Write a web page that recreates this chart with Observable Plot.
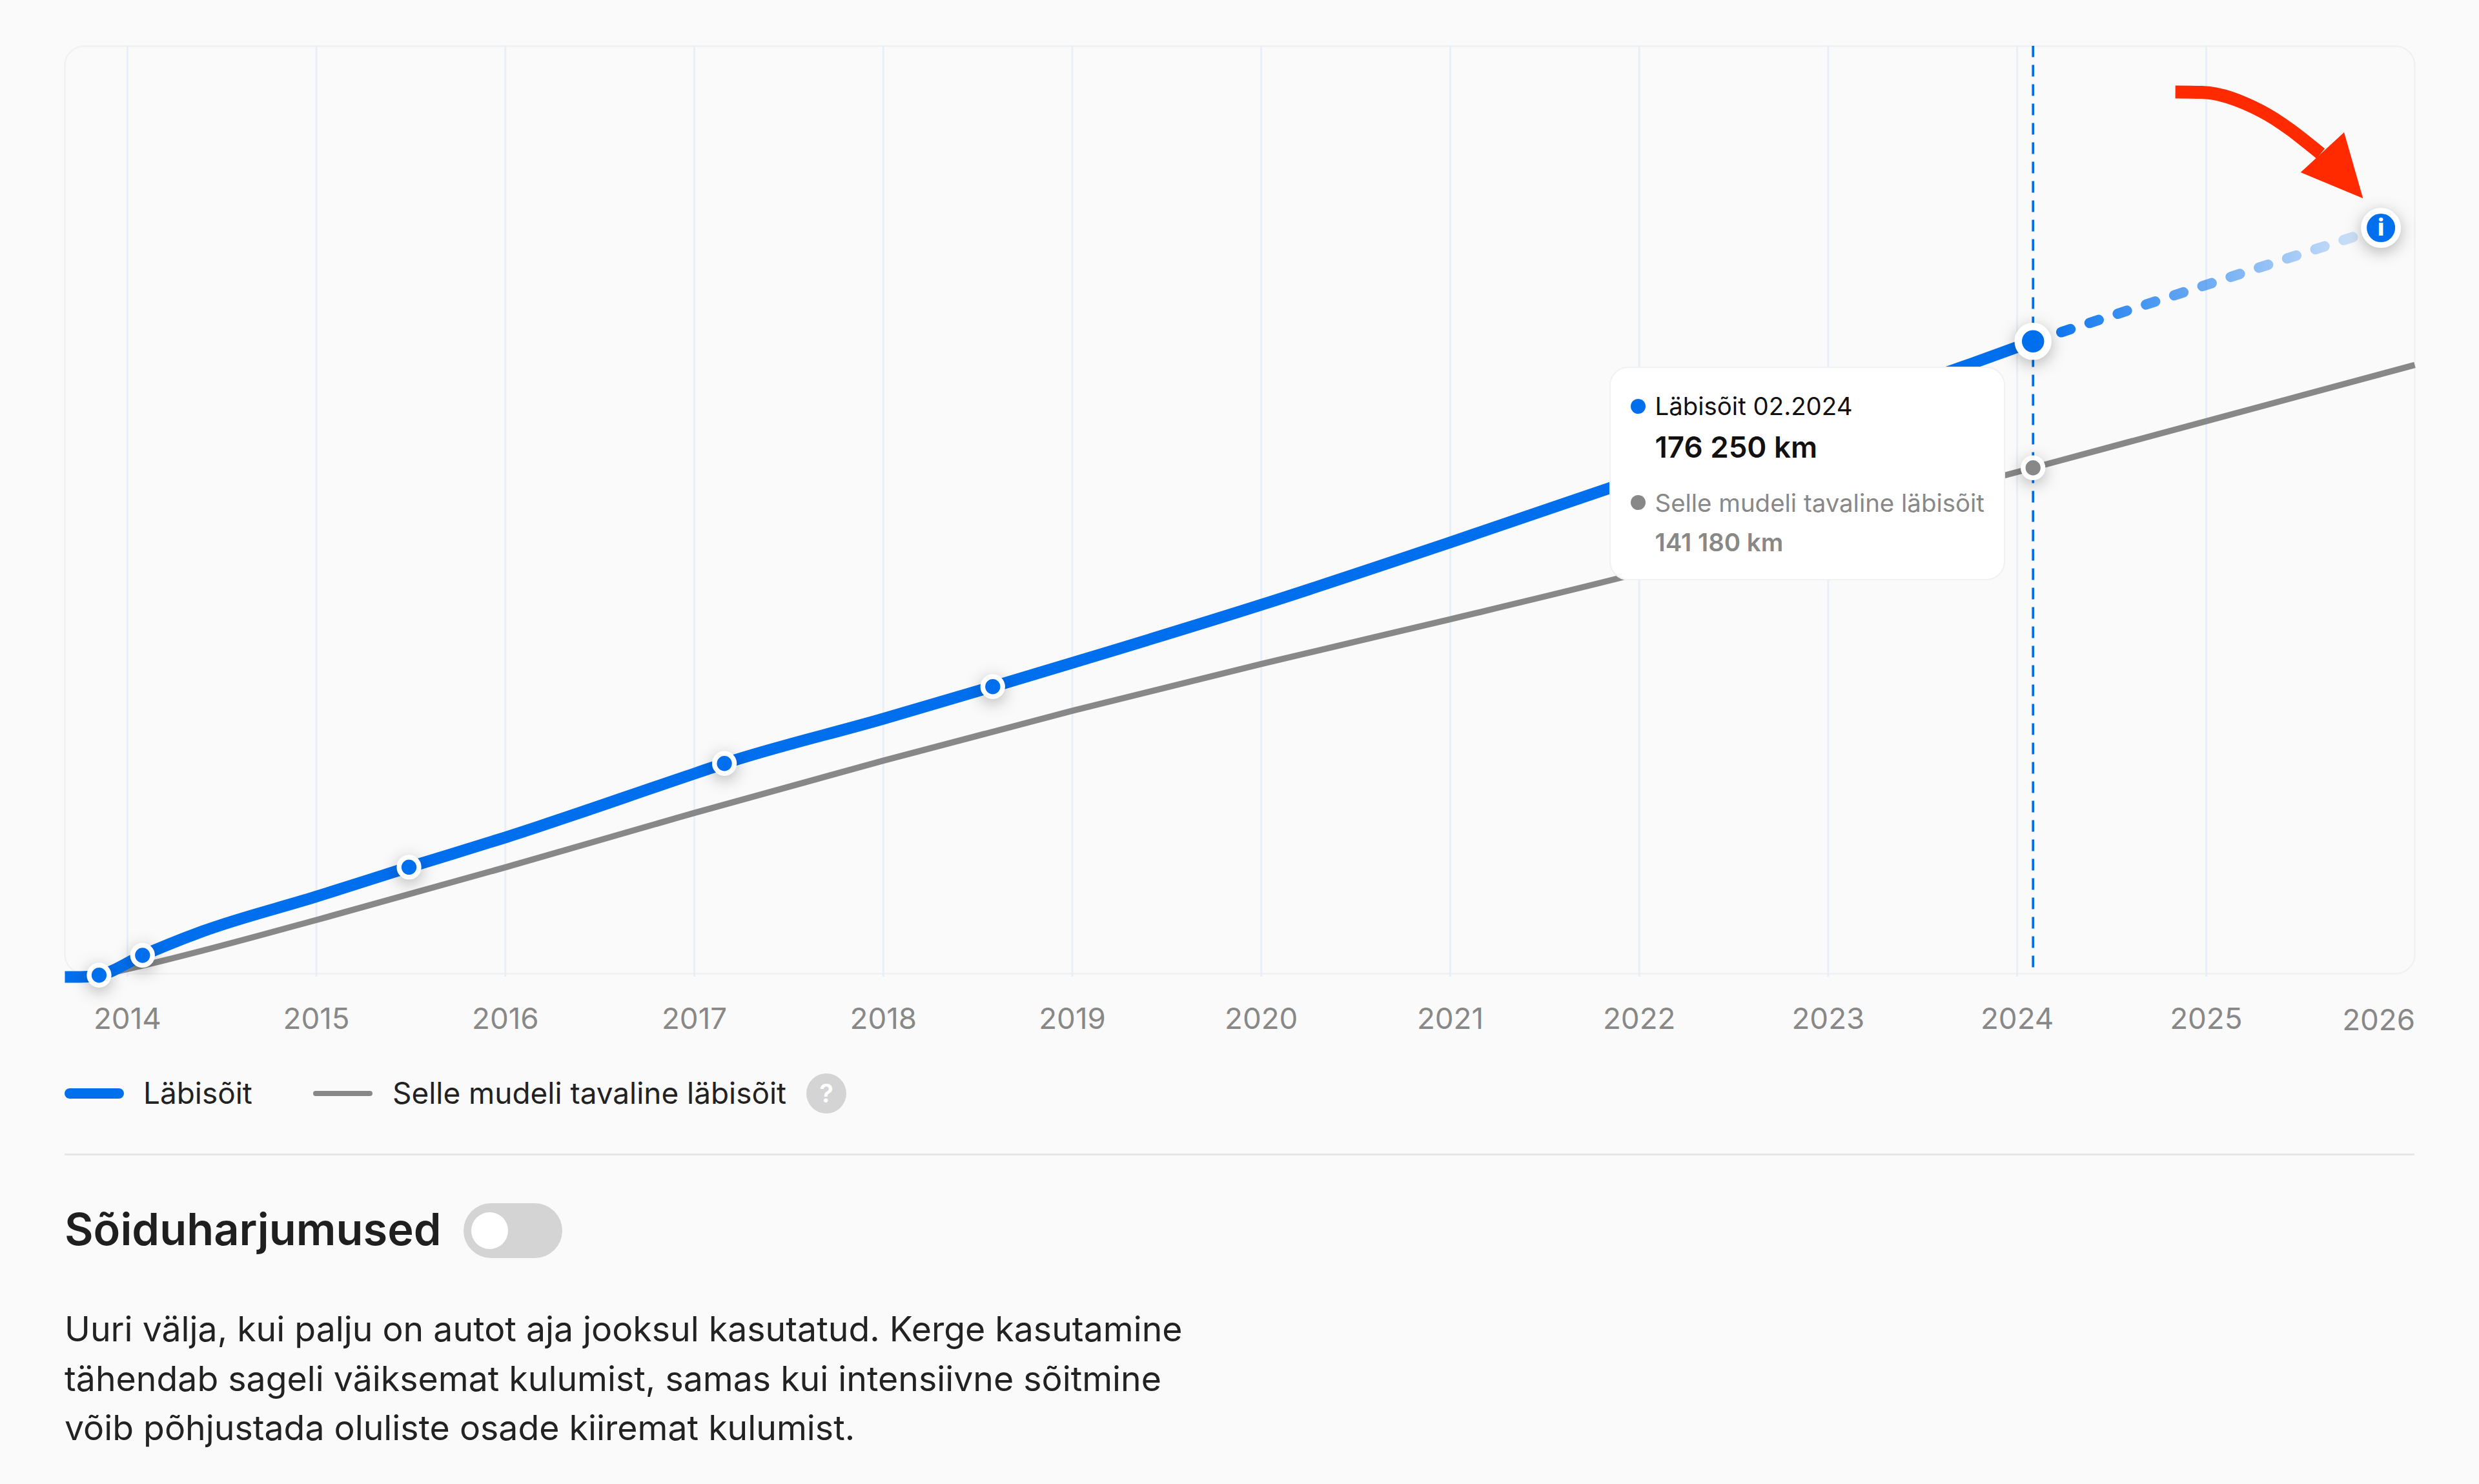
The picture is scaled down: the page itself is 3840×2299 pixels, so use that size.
<!DOCTYPE html>
<html lang="et">
<head>
<meta charset="utf-8">
<title>Läbisõit</title>
<script src="https://cdn.jsdelivr.net/npm/d3@7"></script>
<script src="https://cdn.jsdelivr.net/npm/@observablehq/plot@0.6"></script>
<style>
  html, body { margin: 0; padding: 0; background: #fafafa; overflow: hidden; }
  #page { position: relative; width: 3840px; height: 2299px; background: #fafafa; font-family: Inter, sans-serif; color: #222; }
  #chart { position: absolute; left: 0; top: 0; }
  #chart svg { display: block; background: transparent; }
  #tooltip { position: absolute; left: 2493px; top: 568px; width: 613px; height: 331px; box-sizing: border-box; background: #fff; border: 2.5px solid #f1f1f1; border-radius: 29px; }
  .tip { position: absolute; left: 68.5px; white-space: nowrap; font-size: 38.4px; line-height: 50px; }
  .tipdot { position: absolute; left: 30.5px; width: 23px; height: 23px; border-radius: 50%; }
  .swatch { position: absolute; border-radius: 9px; }
  .legend { position: absolute; top: 1666px; font-size: 45.9px; line-height: 56px; white-space: nowrap; color: #222; }
  #help { position: absolute; left: 1249px; top: 1663px; width: 62px; height: 62px; border-radius: 50%; background: #d4d4d4; color: #fff; text-align: center; font-size: 40px; font-weight: 600; line-height: 62px; }
  #divider { position: absolute; left: 100px; top: 1787px; width: 3640px; height: 3px; background: #e6e6e6; }
  #heading { position: absolute; left: 100px; top: 1865px; font-size: 68.6px; line-height: 80px; font-weight: 600; white-space: nowrap; color: #1f1f1f; }
  #toggle { position: absolute; left: 718px; top: 1864px; width: 153px; height: 85px; border-radius: 43px; background: #d4d4d4; }
  #knob { position: absolute; left: 12px; top: 14px; width: 57px; height: 57px; border-radius: 50%; background: #fff; }
  #body { position: absolute; left: 100px; top: 2021px; font-size: 53.6px; line-height: 76.5px; color: #222; white-space: nowrap; }
</style>
</head>
<body>
<div id="page">
  <div id="chart"></div>
  <div id="tooltip">
    <div class="tipdot" style="top:47.5px;background:#006fee"></div>
    <div class="tip" id="t1" style="top:34px;color:#111"></div>
    <div class="tip" id="t2" style="top:98px;color:#111;font-weight:600;font-size:45.7px"></div>
    <div class="tipdot" style="top:196.5px;background:#888"></div>
    <div class="tip" id="t3" style="top:184px;color:#888"></div>
    <div class="tip" id="t4" style="top:245px;color:#888;font-weight:600"></div>
  </div>
  <div class="swatch" style="left:100px;top:1686px;width:92px;height:16px;background:#006fee"></div>
  <div class="legend" id="l1" style="left:222px"></div>
  <div class="swatch" style="left:485px;top:1690px;width:92px;height:8px;background:#888;border-radius:4px"></div>
  <div class="legend" id="l2" style="left:608px"></div>
  <div id="help">?</div>
  <div id="divider"></div>
  <div id="heading"></div>
  <div id="toggle"><div id="knob"></div></div>
  <div id="body"></div>
</div>
<script>
// Chart values
const tickYears = [2014, 2015, 2016, 2017, 2018, 2019, 2020, 2021, 2022, 2023, 2024, 2025];
const lastTickYear = [2026];

const mileageYears = [2013.669, 2013.75, 2013.85, 2014.08, 2014.40, 2015, 2015.49, 2016, 2017, 2017.159, 2018, 2018.579, 2019, 2020, 2021, 2021.84, 2022, 2023, 2023.723, 2024.084];
const mileageKm    = [0, 0, 500, 6000, 12700, 22300, 30450, 38700, 56400, 59200, 71600, 80500, 87100, 103200, 120500, 135500, 138400, 156300, 169400, 176250];

const typicalYears = [2013.85, 2014, 2015, 2016, 2017, 2018, 2019, 2020, 2021, 2022, 2023, 2024.084, 2026.104];
const typicalKm    = [500, 2200, 15800, 30400, 45500, 60000, 73800, 86800, 99200, 112000, 126100, 141180, 169700];

const forecastYears = [2024.084, 2025.925];
const forecastKm    = [176250, 207700];

const serviceYears = [2013.85, 2014.08, 2015.49, 2017.159, 2018.579];
const serviceKm    = [500, 6000, 30450, 59200, 80500];

const currentYear = 2024.084;
const currentKm = 176250;
const currentTypicalKm = 141180;

// Red annotation arrow, in the chart's own units
const arrowYears = [2024.837, 2024.977, 2025.291, 2025.606];
const arrowKm    = [245400, 245300, 240100, 228300];
const arrowHeadYears = [2025.73, 2025.83, 2025.50];
const arrowHeadKm    = [234200, 215900, 223100];

// Texts
const legendLabels = ["Läbisõit", "Selle mudeli tavaline läbisõit"];
const tooltipDate = "Läbisõit 02.2024";
const tooltipValue = "176 250 km";
const tooltipTypicalValue = "141 180 km";
const headingText = "Sõiduharjumused";
const bodyLines = [
  "Uuri välja, kui palju on autot aja jooksul kasutatud. Kerge kasutamine",
  "tähendab sageli väiksemat kulumist, samas kui intensiivne sõitmine",
  "võib põhjustada oluliste osade kiiremat kulumist."
];

const blue = "#006fee";
const gray = "#888888";
const red = "#ff2a00";
const gridColor = "#e9eff8";

const table = (xs, ys) => xs.map((x, i) => ({x, y: ys[i]}));

const fadeDefs = () => {
  const defs = d3.create("svg:defs");
  const g = defs.append("linearGradient").attr("id", "fade").attr("x1", 0).attr("x2", 1).attr("y1", 0).attr("y2", 0);
  g.append("stop").attr("offset", "0%").attr("stop-color", blue).attr("stop-opacity", 1);
  g.append("stop").attr("offset", "100%").attr("stop-color", blue).attr("stop-opacity", 0.12);
  return defs.node();
};

const plot = Plot.plot({
  width: 3840,
  height: 1620,
  marginLeft: 100,
  marginRight: 100,
  marginTop: 71,
  marginBottom: 112,
  style: {fontFamily: "Inter, sans-serif", background: "transparent", overflow: "visible"},
  x: {domain: [2013.669, 2026.104], axis: null},
  y: {domain: [900, 258100], axis: null},
  marks: [
    fadeDefs,
    Plot.frame({stroke: "#f1f1f1", strokeWidth: 2.5, rx: 30}),
    Plot.ruleX(tickYears, {y1: 0, y2: 258100, stroke: gridColor, strokeWidth: 3}),
    Plot.axisX({
      ticks: tickYears, tickFormat: "d", tickSize: 0, tickPadding: 53,
      fontSize: 45.7, fontVariant: "normal", fill: "#888", anchor: "bottom", label: null
    }),
    Plot.text(lastTickYear, {
      x: d => d, text: d => String(d), frameAnchor: "bottom", dy: 73, dx: 31,
      textAnchor: "end", lineAnchor: "middle", fontSize: 45.7, fill: "#888"
    }),
    Plot.ruleX([currentYear], {y1: 2600, y2: 258100, stroke: blue, strokeWidth: 3.7, strokeDasharray: "18 12"}),
    Plot.line(table(typicalYears, typicalKm), {x: "x", y: "y", stroke: gray, strokeWidth: 9.5, strokeLinecap: "butt", curve: "monotone-x"}),
    Plot.line(table(mileageYears, mileageKm), {x: "x", y: "y", stroke: blue, strokeWidth: 18, strokeLinecap: "butt", curve: "monotone-x"}),
    Plot.line(table(forecastYears, forecastKm), {
      x: "x", y: "y", stroke: "url(#fade)", strokeWidth: 16,
      strokeDasharray: "15 31", strokeLinecap: "round"
    }),
    Plot.line(table(arrowYears, arrowKm), {x: "x", y: "y", stroke: red, strokeWidth: 20, strokeLinecap: "butt", curve: "monotone-x"}),
    Plot.line(table(arrowHeadYears, arrowHeadKm), {x: "x", y: "y", fill: red, stroke: "none"}),
    Plot.dot(table(serviceYears, serviceKm), {x: "x", y: "y", r: 15.4, fill: blue, stroke: "#fff", strokeWidth: 7.5}),
    Plot.dot(table([currentYear], [currentTypicalKm]), {x: "x", y: "y", r: 15.4, fill: gray, stroke: "#fff", strokeWidth: 7.5}),
    Plot.dot(table([currentYear], [currentKm]), {x: "x", y: "y", r: 23, fill: blue, stroke: "#fff", strokeWidth: 11.5}),
    Plot.dot(table([forecastYears[1]], [forecastKm[1]]), {x: "x", y: "y", r: 26.5, fill: blue, stroke: "#fff", strokeWidth: 9}),
    Plot.text(table([forecastYears[1]], [forecastKm[1]]), {x: "x", y: "y", text: () => "i", fill: "#fff", fontSize: 36, fontWeight: 800, lineAnchor: "middle"})
  ]
});

for (const g of plot.querySelectorAll('g[aria-label="dot"]')) {
  g.style.filter = "drop-shadow(0 6px 12px rgba(0,0,0,0.28))";
}

document.getElementById("chart").appendChild(plot);
document.getElementById("t1").textContent = tooltipDate;
document.getElementById("t2").textContent = tooltipValue;
document.getElementById("t3").textContent = legendLabels[1];
document.getElementById("t4").textContent = tooltipTypicalValue;
document.getElementById("l1").textContent = legendLabels[0];
document.getElementById("l2").textContent = legendLabels[1];
document.getElementById("heading").textContent = headingText;
document.getElementById("body").innerHTML = bodyLines.join("<br>");
</script>
</body>
</html>
